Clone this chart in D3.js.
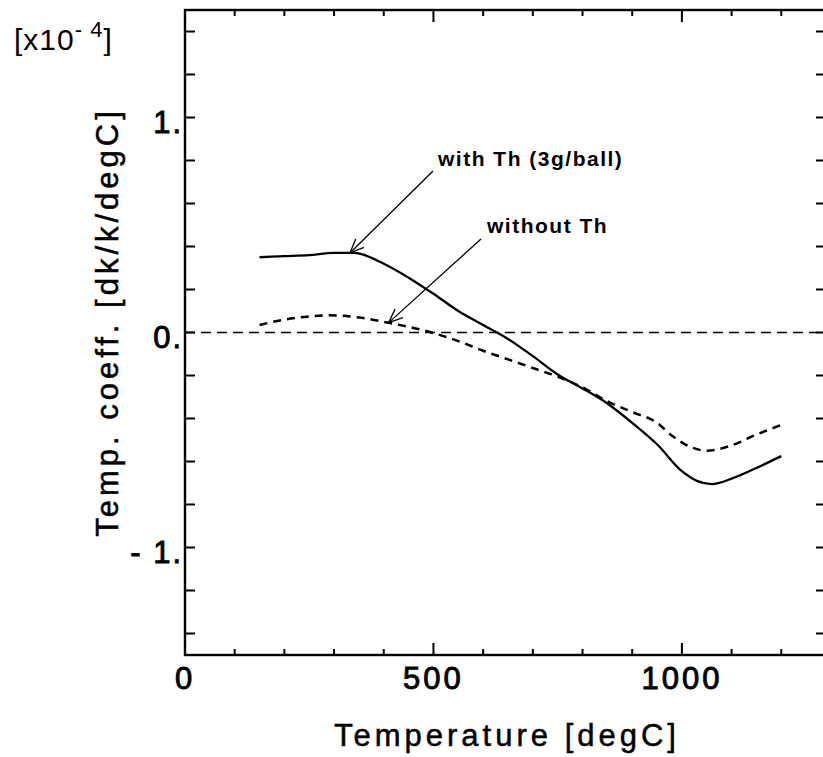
<!DOCTYPE html>
<html>
<head>
<meta charset="utf-8">
<script src="https://cdn.jsdelivr.net/npm/d3@7"></script>
<style>
  body { margin: 0; background: #fff; }
  text { font-family: "Liberation Sans", Arial, sans-serif; fill: #000; }
</style>
</head>
<body>
<div id="chart"></div>
<script>
// with Th (3g/ball) - solid
var tempWith = [150, 200, 250, 300, 340, 400, 450, 500, 550, 600, 650, 700, 750, 800, 850, 900, 950, 1000, 1030, 1060, 1100, 1150, 1200];
var coeffWith = [0.35, 0.355, 0.36, 0.37, 0.37, 0.32, 0.255, 0.18, 0.10, 0.035, -0.03, -0.11, -0.195, -0.26, -0.33, -0.42, -0.52, -0.645, -0.69, -0.705, -0.68, -0.63, -0.575];
// without Th - dashed
var tempWithout = [150, 200, 250, 290, 350, 410, 480, 550, 600, 650, 700, 750, 800, 850, 900, 950, 980, 1020, 1050, 1100, 1150, 1200];
var coeffWithout = [0.035, 0.06, 0.075, 0.08, 0.07, 0.045, 0.01, -0.04, -0.085, -0.125, -0.165, -0.205, -0.255, -0.32, -0.37, -0.42, -0.48, -0.535, -0.55, -0.525, -0.475, -0.43];

var xTickLabels = [0, 500, 1000];
var yTickLabels = [1, 0, -1];

var width = 823, height = 757;
var margin = {top: 10, left: 185, right: -3, bottom: 102};

var svg = d3.select("#chart").append("svg")
    .attr("width", width)
    .attr("height", height);

var x = d3.scaleLinear()
  .domain([0, 1290])
  .range([margin.left, width - margin.right]);

var y = d3.scaleLinear()
  .domain([-1.5, 1.5])
  .range([height - margin.bottom, margin.top]);

var x0 = x.range()[0], x1 = x.range()[1];
var yb = y.range()[0], yt = y.range()[1];

// frame
svg.append("rect")
  .attr("x", x0).attr("y", yt)
  .attr("width", x1 - x0).attr("height", yb - yt)
  .attr("fill", "none").attr("stroke", "#000").attr("stroke-width", 2.4);

// x ticks (bottom & top), minor every 100
var xt = d3.range(100, 1290, 100);
xt.forEach(function(t) {
  var len = (t % 500 == 0) ? 12 : 6;
  svg.append("line").attr("x1", x(t)).attr("x2", x(t))
    .attr("y1", yb).attr("y2", yb - len).attr("stroke", "#000").attr("stroke-width", 2);
  svg.append("line").attr("x1", x(t)).attr("x2", x(t))
    .attr("y1", yt).attr("y2", yt + len).attr("stroke", "#000").attr("stroke-width", 2);
});

// y ticks every 0.2
var yt2 = d3.range(-14, 15, 2).map(function(d) { return d / 10; });
yt2.forEach(function(t) {
  svg.append("line").attr("x1", x0).attr("x2", x0 + 10)
    .attr("y1", y(t)).attr("y2", y(t)).attr("stroke", "#000").attr("stroke-width", 2);
  svg.append("line").attr("x1", x1).attr("x2", x1 - 10)
    .attr("y1", y(t)).attr("y2", y(t)).attr("stroke", "#000").attr("stroke-width", 2);
});

// tick labels
svg.selectAll(".xl").data(xTickLabels).enter().append("text")
  .attr("x", function(d) { return x(d); })
  .attr("y", yb + 34)
  .attr("text-anchor", "middle")
  .style("font-size", "31px")
  .style("stroke", "#000").style("stroke-width", "0.9px")
  .style("letter-spacing", "3px")
  .text(function(d) { return d; });

svg.selectAll(".yl").data(yTickLabels).enter().append("text")
  .attr("x", x0 - 2)
  .attr("y", function(d) { return y(d) + 15; })
  .attr("text-anchor", "end")
  .style("font-size", "31px")
  .style("stroke", "#000").style("stroke-width", "0.9px")
  .style("letter-spacing", "2px")
  .text(function(d) { return d == -1 ? "- 1." : d + "."; });

// zero line
svg.append("line")
  .attr("x1", x0).attr("x2", x1)
  .attr("y1", y(0)).attr("y2", y(0))
  .attr("stroke", "#000").attr("stroke-width", 1.3)
  .attr("stroke-dasharray", "10,6");

var line = d3.line().curve(d3.curveMonotoneX)
  .x(function(d) { return x(d[0]); })
  .y(function(d) { return y(d[1]); });

svg.append("path")
  .attr("d", line(d3.zip(tempWith, coeffWith)))
  .attr("fill", "none").attr("stroke", "#000").attr("stroke-width", 2.3);

svg.append("path")
  .attr("d", line(d3.zip(tempWithout, coeffWithout)))
  .attr("fill", "none").attr("stroke", "#000").attr("stroke-width", 2.5)
  .attr("stroke-dasharray", "8,6");

// annotations
function arrow(fx, fy, tx, ty) {
  svg.append("line").attr("x1", fx).attr("y1", fy).attr("x2", tx).attr("y2", ty)
    .attr("stroke", "#000").attr("stroke-width", 1.3);
  var a = Math.atan2(fy - ty, fx - tx), h = 15, s = 0.4;
  [a - s, a + s].forEach(function(b) {
    svg.append("line").attr("x1", tx).attr("y1", ty)
      .attr("x2", tx + h * Math.cos(b)).attr("y2", ty + h * Math.sin(b))
      .attr("stroke", "#000").attr("stroke-width", 1.3);
  });
}
arrow(433, 171, x(332), y(0.37));
arrow(481, 239, x(410), y(0.046));

svg.append("text").attr("x", 438).attr("y", 166)
  .style("font-size", "21px").style("font-weight", "bold").style("letter-spacing", "1.5px")
  .text("with Th (3g/ball)");
svg.append("text").attr("x", 487).attr("y", 233)
  .style("font-size", "21px").style("font-weight", "bold").style("letter-spacing", "1.5px")
  .text("without Th");

// axis titles
svg.append("text")
  .attr("x", 507).attr("y", 746)
  .attr("text-anchor", "middle")
  .style("font-size", "31px").style("letter-spacing", "4px")
  .style("stroke", "#000").style("stroke-width", "0.5px")
  .text("Temperature [degC]");

svg.append("text")
  .attr("transform", "translate(118,322) rotate(-90)")
  .attr("text-anchor", "middle")
  .style("font-size", "31px").style("letter-spacing", "4px")
  .style("stroke", "#000").style("stroke-width", "0.5px")
  .text("Temp. coeff. [dk/k/degC]");

var mult = svg.append("text").attr("x", 14).attr("y", 50)
  .style("font-size", "30px").style("letter-spacing", "1px");
mult.append("tspan").text("[x10");
mult.append("tspan").attr("dy", -13).style("font-size", "22px").text("- 4");
mult.append("tspan").attr("dy", 13).text("]");
</script>
</body>
</html>
